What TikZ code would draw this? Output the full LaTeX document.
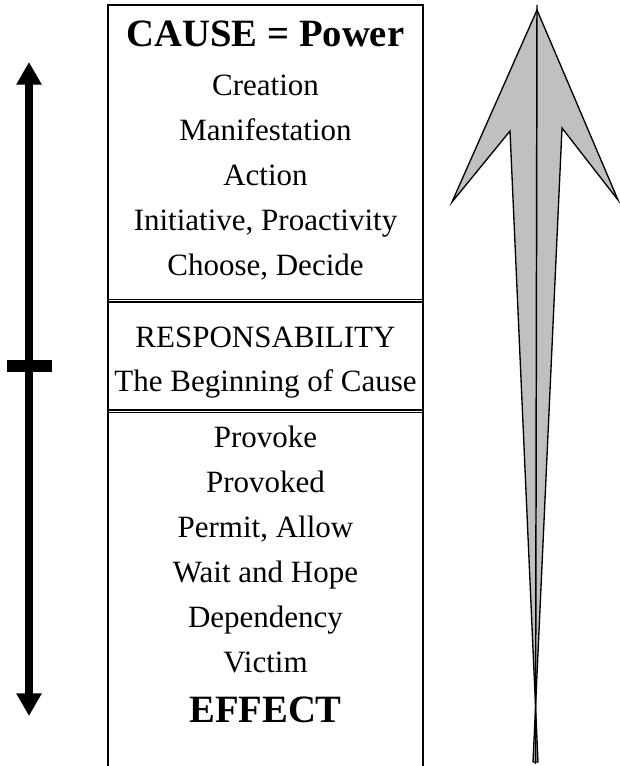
\documentclass[tikz,border=0pt]{standalone}
\usepackage{fontspec}
\setmainfont{Liberation Serif}
\usetikzlibrary{arrows.meta}
\definecolor{arrowgray}{HTML}{C0C0C0}
\begin{document}
\begin{tikzpicture}[x=0.75pt,y=-0.75pt,
  item/.style={font=\fontsize{23.25}{28}\selectfont, inner sep=0pt, anchor=base},
  title/.style={font=\fontsize{29}{34}\selectfont\bfseries, inner sep=0pt, anchor=base},
  frame/.style={line width=1pt},
  rule/.style={line width=0.9pt},
  scale line/.style={line width=5.5pt, {Triangle[length=17pt,width=18pt]}-{Triangle[length=17pt,width=18pt]}},
  big arrow/.style={fill=arrowgray, draw=black, line width=1pt, line join=miter},
]
\useasboundingbox (0,0) rectangle (619,766);

% column frame, open at the bottom
\coordinate (fTL) at (108,5);
\coordinate (fTR) at (423,5);
\coordinate (fBL) at (108,768);
\coordinate (fBR) at (423,768);
\draw[frame] (fBL) -- (fTL) -- (fTR) -- (fBR);

% double rules between the three sections
\coordinate (r1a) at (108,299.5); \coordinate (r1b) at (423,299.5);
\coordinate (r1c) at (108,302);   \coordinate (r1d) at (423,302);
\coordinate (r2a) at (108,410);   \coordinate (r2b) at (423,410);
\coordinate (r2c) at (108,412.5); \coordinate (r2d) at (423,412.5);
\draw[rule] (r1a) -- (r1b) (r1c) -- (r1d);
\draw[rule] (r2a) -- (r2b) (r2c) -- (r2d);

% upper section
\node[title] (cause) at (265.5,47) {CAUSE = Power};
\node[item] (creation) at (265.5,96) {Creation};
\node[item] (manif) at (265.5,141) {Manifestation};
\node[item] (action) at (265.5,186) {Action};
\node[item] (init) at (265.5,231) {Initiative, Proactivity};
\node[item] (choose) at (265.5,276) {Choose, Decide};

% middle section
\node[item] (resp) at (265.5,347) {RESPONSABILITY};
\node[item] (begin) at (265.5,391) {The Beginning of Cause};

% lower section
\node[item] (provoke) at (265.5,447) {Provoke};
\node[item] (provoked) at (265.5,492) {Provoked};
\node[item] (permit) at (265.5,537) {Permit, Allow};
\node[item] (wait) at (265.5,582) {Wait and Hope};
\node[item] (dep) at (265.5,627) {Dependency};
\node[item] (victim) at (265.5,672) {Victim};
\node[title] (effect) at (265.5,722) {EFFECT};

% left scale with a mark at the middle
\coordinate (sTop) at (29,62);
\coordinate (sBot) at (29,716);
\coordinate (mL) at (7,366);
\coordinate (mR) at (52,366);
\draw[scale line] (sBot) -- (sTop);
\draw[line width=9pt] (mL) -- (mR);

% large upward arrow
\coordinate (tip) at (537,10);
\coordinate (rBarb) at (618,200);
\coordinate (rNotch) at (562,128);
\coordinate (rFoot) at (533,762);
\coordinate (lFoot) at (538,762);
\coordinate (lNotch) at (510,131);
\coordinate (lBarb) at (452,202);
\draw[big arrow] (tip) -- (rBarb) -- (rNotch) -- (rFoot) -- (lFoot) -- (lNotch) -- (lBarb) -- cycle;
\coordinate (spineTop) at (537,5);
\coordinate (spineBot) at (535.5,764);
\draw[line width=1.1pt] (spineTop) -- (spineBot);
\end{tikzpicture}
\end{document}
